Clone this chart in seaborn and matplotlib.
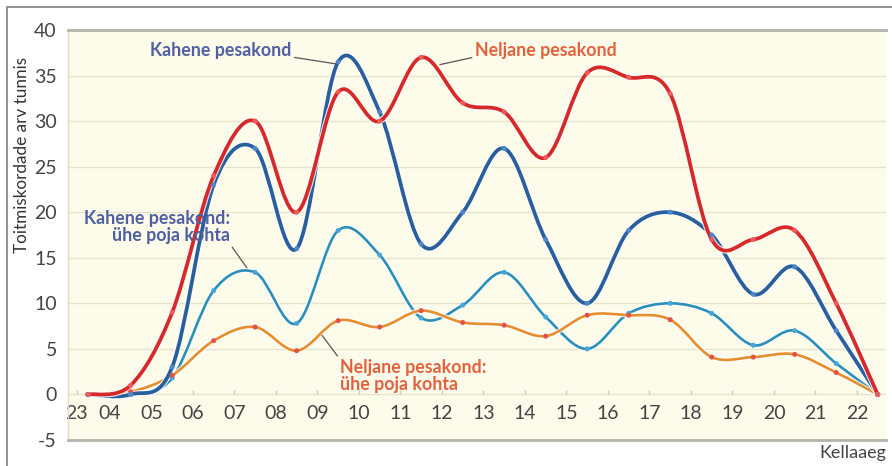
import matplotlib
matplotlib.use("Agg")
import matplotlib.pyplot as plt
import matplotlib.patheffects as pe
from matplotlib.path import Path
from matplotlib.patches import PathPatch, Rectangle
import numpy as np
import pandas as pd
import seaborn as sns

sns.set_style("white")
plt.rcParams["font.family"] = ["Lato", "DejaVu Sans"]
plt.rcParams["axes.unicode_minus"] = False

# hour labels on the x axis (night 23-04 is squeezed into one slot)
hour_labels = ["23", "04", "05", "06", "07", "08", "09", "10", "11", "12",
               "13", "14", "15", "16", "17", "18", "19", "20", "21", "22"]
tick_slots = [0.2, 1, 2, 3, 4, 5, 6, 7, 8, 9,
              10, 11, 12, 13, 14, 15, 16, 17, 18, 19]
# measurements sit half way through each hour
point_slots = [0.47, 1.5, 2.5, 3.5, 4.5, 5.5, 6.5, 7.5, 8.5, 9.5,
               10.5, 11.5, 12.5, 13.5, 14.5, 15.5, 16.5, 17.5, 18.5, 19.5]

kahene = [0, 0, 3, 23, 27, 16, 36.5, 31, 16.5, 20,
          27, 17, 10, 18, 20, 17.5, 11, 14, 7, 0]
neljane = [0, 1, 9, 24, 30, 20, 33.2, 30, 37, 32,
           31, 26, 35.3, 34.8, 33, 17, 17, 18, 10, 0]
kahene_poja = [0, 0, 1.8, 11.4, 13.4, 7.8, 18, 15.3, 8.4, 9.8,
               13.4, 8.5, 5, 8.9, 10, 8.9, 5.4, 7, 3.4, 0]
neljane_poja = [0, 0.3, 2.1, 5.9, 7.4, 4.8, 8.1, 7.4, 9.2, 7.9,
                7.6, 6.4, 8.7, 8.7, 8.2, 4.1, 4.1, 4.4, 2.4, 0]

series = {
    "Kahene pesakond: ühe poja kohta": kahene_poja,
    "Neljane pesakond: ühe poja kohta": neljane_poja,
    "Kahene pesakond": kahene,
    "Neljane pesakond": neljane,
}
line_colors = {
    "Kahene pesakond: ühe poja kohta": "#2b8fb8",
    "Neljane pesakond: ühe poja kohta": "#e68d2c",
    "Kahene pesakond": "#2a5f9e",
    "Neljane pesakond": "#d52a28",
}
marker_colors = {
    "Kahene pesakond: ühe poja kohta": "#4aa6d6",
    "Neljane pesakond: ühe poja kohta": "#e2524a",
    "Kahene pesakond": "#4f88c8",
    "Neljane pesakond": "#f05c5c",
}
widths = {
    "Kahene pesakond: ühe poja kohta": 1.9,
    "Neljane pesakond: ühe poja kohta": 1.9,
    "Kahene pesakond": 2.7,
    "Neljane pesakond": 2.7,
}

df = pd.DataFrame([
    {"slot": s, "value": v, "series": name}
    for name, vals in series.items()
    for s, v in zip(point_slots, vals)
])


def smooth_path(xs, ys):
    # catmull-rom through the points, written as cubic beziers
    pts = np.column_stack([xs, ys]).astype(float)
    ext = np.vstack([pts[0], pts, pts[-1]])
    verts = [pts[0]]
    codes = [Path.MOVETO]
    for i in range(len(pts) - 1):
        p0, p1, p2, p3 = ext[i], ext[i + 1], ext[i + 2], ext[i + 3]
        verts += [p1 + (p2 - p0) / 6, p2 - (p3 - p1) / 6, p2]
        codes += [Path.CURVE4] * 3
    return Path(verts, codes)


fig, ax = plt.subplots(figsize=(8.92, 4.66), dpi=100)
fig.subplots_adjust(left=0.0762, right=0.9933, bottom=0.0558, top=0.9356)
ax.set_facecolor("#fdfbea")

for name, vals in series.items():
    lw = widths[name]
    patch = PathPatch(smooth_path(point_slots, vals), fill=False,
                      edgecolor=line_colors[name], lw=lw, zorder=3,
                      capstyle="round", joinstyle="round",
                      path_effects=[pe.Stroke(linewidth=lw + 1.6, foreground="white", alpha=0.85),
                                    pe.Normal()])
    ax.add_patch(patch)

sns.scatterplot(data=df, x="slot", y="value", hue="series", palette=marker_colors,
                s=13, linewidth=0, legend=False, ax=ax, zorder=4)

ax.set_xlim(-0.01, 19.7)
ax.set_ylim(-5, 40)
ax.set_yticks(range(-5, 45, 5))
ax.yaxis.grid(True, color="#e6e2cc", lw=1)
ax.set_axisbelow(True)
ax.set_xticks(tick_slots, hour_labels)
ax.vlines(tick_slots, 0, 0.5, color="#cfcab4", lw=1, zorder=1)
ax.tick_params(axis="x", length=0, pad=-25, labelsize=14, labelcolor="#444444")
ax.tick_params(axis="y", length=0, pad=8, labelsize=14, labelcolor="#444444")

for side in ["top", "bottom"]:
    ax.spines[side].set_color("#b4b2aa")
    ax.spines[side].set_linewidth(2)
ax.spines["left"].set_color("#dcdac8")
ax.spines["left"].set_linewidth(1)
ax.spines["right"].set_visible(False)

ax.set_ylabel("Toitmiskordade arv tunnis", fontsize=12.3, color="#333333")
ax.yaxis.set_label_coords(-0.047, 0.696)
ax.set_xlabel("Kellaaeg", fontsize=13, color="#444444", ha="right")
ax.xaxis.set_label_coords(1.0, -0.012)

blue_txt = "#4f5fa2"
red_txt = "#e2623e"
arrow = dict(arrowstyle="-", color="#555555", lw=0.9, shrinkA=0, shrinkB=0)
ax.annotate("Kahene pesakond", xy=(6.42, 36.3), xytext=(5.37, 37.7),
            ha="right", va="center", fontsize=12.8, fontweight="bold", color=blue_txt,
            arrowprops=dict(arrow, relpos=(1.0, 0.15)), zorder=5)
ax.annotate("Neljane pesakond", xy=(8.95, 36.2), xytext=(9.8, 37.7),
            ha="left", va="center", fontsize=12.8, fontweight="bold", color=red_txt,
            arrowprops=dict(arrow, relpos=(0.0, 0.15)), zorder=5)
ax.annotate("Kahene pesakond:\nühe poja kohta", xy=(4.3, 13.9), xytext=(3.89, 18.4),
            ha="right", va="center", multialignment="right", linespacing=1.0,
            fontsize=12.8, fontweight="bold", color=blue_txt,
            arrowprops=dict(arrow, relpos=(1.0, 0.0)), zorder=5)
ax.annotate("Neljane pesakond:\nühe poja kohta", xy=(6.11, 6.5), xytext=(6.54, 2.0),
            ha="left", va="center", multialignment="left", linespacing=1.0,
            fontsize=12.8, fontweight="bold", color=red_txt,
            arrowprops=dict(arrow, relpos=(0.0, 1.0)), zorder=5)

fig.add_artist(Rectangle((0.0078, -0.1), 1.2, 1.085, transform=fig.transFigure,
                         fill=False, edgecolor="#8a8a8a", lw=1.3))

fig.savefig("out.png", dpi=100)
